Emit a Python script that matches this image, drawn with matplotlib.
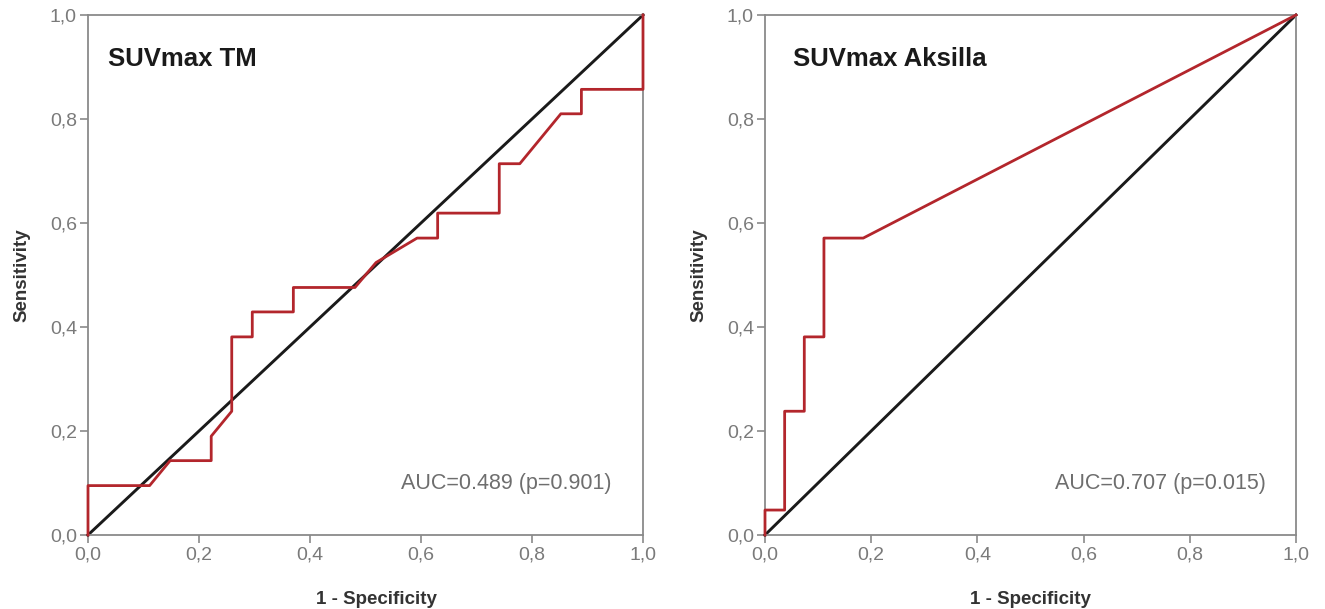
import matplotlib
matplotlib.use("Agg")
import matplotlib.pyplot as plt
from matplotlib.ticker import FixedLocator

plt.rcParams["font.family"] = ["Liberation Sans", "DejaVu Sans"]

# ROC points (1 - specificity, sensitivity)
tm_fpr = [0.0, 0.0, 0.111, 0.148, 0.222, 0.222, 0.259, 0.259, 0.296, 0.296,
          0.370, 0.370, 0.481, 0.519, 0.593, 0.630, 0.630, 0.741, 0.741,
          0.778, 0.852, 0.889, 0.889, 1.0, 1.0]
tm_tpr = [0.0, 0.095, 0.095, 0.143, 0.143, 0.190, 0.238, 0.381, 0.381, 0.429,
          0.429, 0.476, 0.476, 0.524, 0.571, 0.571, 0.619, 0.619, 0.714,
          0.714, 0.810, 0.810, 0.857, 0.857, 1.0]

ax_fpr = [0.0, 0.0, 0.037, 0.037, 0.074, 0.074, 0.111, 0.111, 0.185, 1.0]
ax_tpr = [0.0, 0.048, 0.048, 0.238, 0.238, 0.381, 0.381, 0.571, 0.571, 1.0]

titles = ["SUVmax TM", "SUVmax Aksilla"]
auc_labels = ["AUC=0.489 (p=0.901)", "AUC=0.707 (p=0.015)"]
tick_vals = [0.0, 0.2, 0.4, 0.6, 0.8, 1.0]
tick_labels = ["0,0", "0,2", "0,4", "0,6", "0,8", "1,0"]

RED = "#b3262c"
GRAY = "#8a8a8a"
TXT = "#7a7a7a"

fig = plt.figure(figsize=(13.25, 6.09), dpi=100)
ax1 = fig.add_axes([88 / 1325, 74 / 609, 555 / 1325, 520 / 609])
ax2 = fig.add_axes([765 / 1325, 74 / 609, 531 / 1325, 520 / 609])

curves = [(tm_fpr, tm_tpr), (ax_fpr, ax_tpr)]
title_x = [0.036, 0.053]
xlabel_x = [0.52, 0.5]

for i, ax in enumerate([ax1, ax2]):
    fpr, tpr = curves[i]
    ax.plot([0, 1], [0, 1], color="#1a1a1a", lw=2.1, zorder=2, clip_on=False)
    ax.plot(fpr, tpr, color=RED, lw=2.0, zorder=3, clip_on=False)
    ax.set_xlim(0, 1)
    ax.set_ylim(0, 1)
    ax.xaxis.set_major_locator(FixedLocator(tick_vals))
    ax.yaxis.set_major_locator(FixedLocator(tick_vals))
    ax.set_xticklabels(tick_labels)
    ax.set_yticklabels(tick_labels)
    ax.tick_params(direction="out", length=6, width=1.2, color=GRAY,
                   labelcolor=TXT, labelsize=14, pad=2)
    for sp in ax.spines.values():
        sp.set_color(GRAY)
        sp.set_linewidth(1.3)
    ax.set_xlabel("1 - Specificity", fontsize=13.5, fontweight="bold",
                  color="#333333", labelpad=20)
    ax.xaxis.label.set_x(xlabel_x[i])
    ax.set_ylabel("Sensitivity", fontsize=13.5, fontweight="bold",
                  color="#333333", labelpad=14)
    ax.text(title_x[i], 0.915, titles[i], transform=ax.transAxes,
            fontsize=18.5, fontweight="bold", color="#1a1a1a",
            ha="left", va="center")
    ax.text(0.944, 0.10, auc_labels[i], transform=ax.transAxes,
            fontsize=15.5, color="#6e6e6e", ha="right", va="center")

fig.savefig("out.png", dpi=100)
